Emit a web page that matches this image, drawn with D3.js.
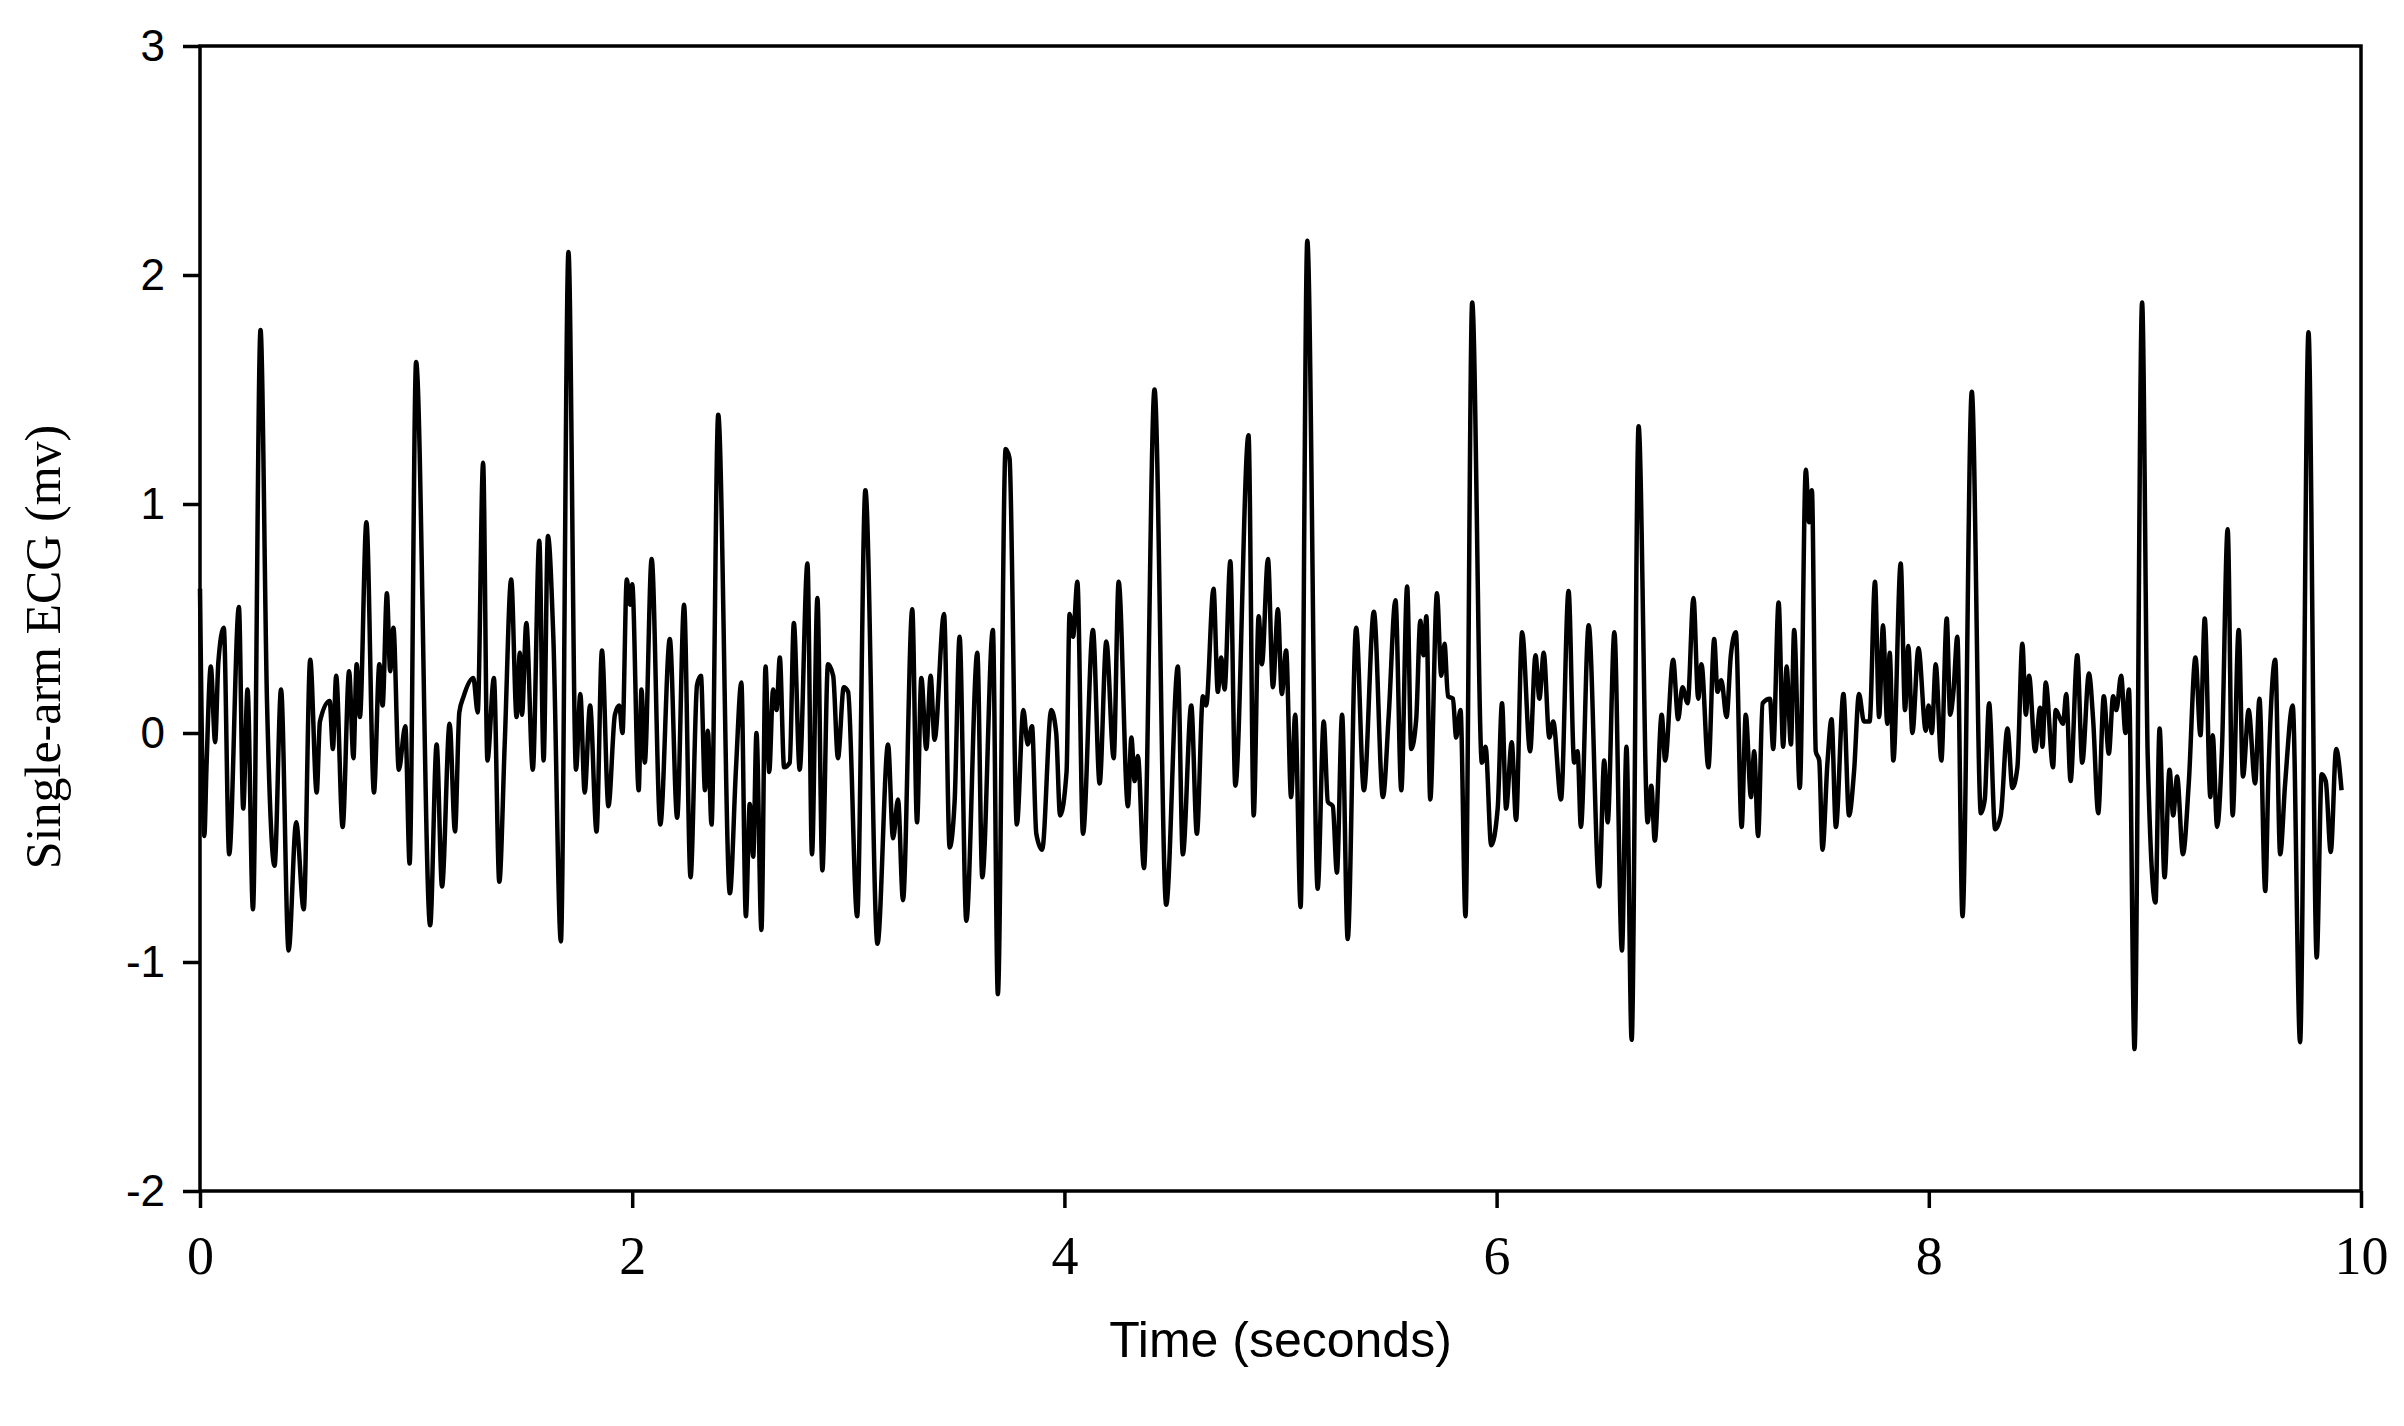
<!DOCTYPE html>
<html>
<head>
<meta charset="utf-8">
<script src="https://cdn.jsdelivr.net/npm/d3@7"></script>
<style>
body { margin: 0; background: #fff; }
</style>
</head>
<body>
<svg id="chart" width="2404" height="1426"></svg>
<script>
// ECG trace, turning points (seconds, mV)
var times = [
	0.0, 0.02, 0.03, 0.05, 0.07, 0.085, 0.11, 0.135, 0.18, 0.20, 0.22, 0.245, 0.28, 0.31, 0.345, 0.375,
	0.41, 0.445, 0.48, 0.51, 0.54, 0.555, 0.60, 0.615, 0.63, 0.66, 0.69, 0.71, 0.725, 0.74, 0.77, 0.805,
	0.83, 0.845, 0.865, 0.88, 0.895, 0.92, 0.95, 0.97, 1.0, 1.065, 1.095, 1.12, 1.155, 1.18, 1.20, 1.22,
	1.265, 1.285, 1.31, 1.33, 1.36, 1.385, 1.41, 1.44, 1.465, 1.48, 1.49, 1.51, 1.54, 1.57, 1.59, 1.61,
	1.635, 1.67, 1.705, 1.74, 1.76, 1.78, 1.805, 1.835, 1.86, 1.89, 1.92, 1.94, 1.955, 1.975, 1.99, 2.0,
	2.03, 2.043, 2.058, 2.09, 2.13, 2.174, 2.208, 2.24, 2.27, 2.30, 2.318, 2.337, 2.35, 2.367, 2.398, 2.452,
	2.48, 2.505, 2.526, 2.544, 2.56, 2.575, 2.598, 2.617, 2.634, 2.652, 2.668, 2.683, 2.703, 2.729, 2.748, 2.775,
	2.811, 2.832, 2.857, 2.88, 2.906, 2.93, 2.952, 2.979, 2.999, 3.041, 3.079, 3.135, 3.184, 3.207, 3.23, 3.253,
	3.296, 3.318, 3.338, 3.361, 3.381, 3.399, 3.443, 3.469, 3.492, 3.515, 3.546, 3.597, 3.62, 3.669, 3.692, 3.728,
	3.746, 3.78, 3.81, 3.83, 3.85, 3.87, 3.897, 3.939, 3.962, 3.98, 4.01, 4.024, 4.04, 4.06, 4.086, 4.132,
	4.163, 4.194, 4.228, 4.251, 4.294, 4.31, 4.325, 4.34, 4.368, 4.417, 4.471, 4.525, 4.548, 4.587, 4.613, 4.641,
	4.656, 4.69, 4.71, 4.726, 4.741, 4.768, 4.791, 4.852, 4.876, 4.899, 4.914, 4.942, 4.965, 4.988, 5.006, 5.026,
	5.049, 5.068, 5.093, 5.124, 5.172, 5.2, 5.219, 5.242, 5.261, 5.285, 5.311, 5.35, 5.386, 5.432, 5.474, 5.501,
	5.532, 5.559, 5.586, 5.605, 5.628, 5.647, 5.662, 5.675, 5.693, 5.724, 5.744, 5.759, 5.775, 5.798, 5.813, 5.833,
	5.856, 5.887, 5.932, 5.949, 5.975, 6.005, 6.025, 6.044, 6.07, 6.09, 6.118, 6.155, 6.18, 6.198, 6.218, 6.244,
	6.262, 6.298, 6.333, 6.359, 6.375, 6.39, 6.426, 6.475, 6.498, 6.514, 6.545, 6.58, 6.601, 6.625, 6.657, 6.699,
	6.716, 6.732, 6.764, 6.78, 6.817, 6.84, 6.86, 6.884, 6.911, 6.933, 6.948, 6.98, 7.007, 7.022, 7.04, 7.064,
	7.084, 7.107, 7.134, 7.153, 7.177, 7.192, 7.21, 7.231, 7.265, 7.28, 7.305, 7.326, 7.342, 7.362, 7.377, 7.403,
	7.431, 7.446, 7.459, 7.477, 7.493, 7.508, 7.531, 7.55, 7.57, 7.605, 7.631, 7.654, 7.677, 7.7, 7.726, 7.751,
	7.77, 7.788, 7.808, 7.819, 7.836, 7.87, 7.89, 7.905, 7.924, 7.952, 7.986, 7.999, 8.014, 8.032, 8.058, 8.083,
	8.099, 8.114, 8.132, 8.156, 8.199, 8.241, 8.259, 8.279, 8.307, 8.333, 8.364, 8.387, 8.41, 8.433, 8.449, 8.464,
	8.492, 8.515, 8.526, 8.541, 8.575, 8.587, 8.621, 8.636, 8.656, 8.687, 8.71, 8.741, 8.761, 8.784, 8.81, 8.833,
	8.853, 8.868, 8.89, 8.91, 8.926, 8.952, 8.987, 9.013, 9.049, 9.068, 9.091, 9.114, 9.131, 9.149, 9.176, 9.203,
	9.234, 9.257, 9.277, 9.303, 9.314, 9.334, 9.357, 9.383, 9.406, 9.434, 9.454, 9.48, 9.51, 9.53, 9.557, 9.572,
	9.603, 9.626, 9.649, 9.684, 9.718, 9.757, 9.795, 9.818, 9.837, 9.86, 9.885, 9.91
];
var values = [
	0.63, -0.45, -0.15, 0.29, -0.04, 0.31, 0.46, -0.53, 0.55, -0.33, 0.19, -0.77, 1.76, 0.14, -0.58, 0.19,
	-0.95, -0.39, -0.77, 0.32, -0.26, 0.05, 0.14, -0.07, 0.25, -0.41, 0.27, -0.11, 0.30, 0.07, 0.92, -0.26,
	0.30, 0.12, 0.61, 0.27, 0.46, -0.16, 0.03, -0.57, 1.62, -0.84, -0.05, -0.67, 0.04, -0.43, 0.09, 0.16,
	0.24, 0.09, 1.18, -0.12, 0.24, -0.65, -0.05, 0.67, 0.07, 0.35, 0.08, 0.48, -0.16, 0.84, -0.12, 0.86,
	0.42, -0.91, 2.10, -0.16, 0.17, -0.26, 0.12, -0.43, 0.36, -0.32, 0.08, 0.12, 0.0, 0.67, 0.56, 0.65,
	-0.25, 0.19, -0.13, 0.76, -0.40, 0.41, -0.37, 0.56, -0.63, 0.21, 0.25, -0.25, 0.01, -0.40, 1.39, -0.70,
	-0.16, 0.22, -0.80, -0.31, -0.54, 0.0, -0.86, 0.29, -0.17, 0.19, 0.10, 0.33, -0.15, -0.13, 0.48, -0.16,
	0.74, -0.53, 0.59, -0.60, 0.30, 0.25, -0.11, 0.20, 0.18, -0.80, 1.06, -0.92, -0.05, -0.46, -0.29, -0.73,
	0.54, -0.39, 0.24, -0.07, 0.25, -0.03, 0.52, -0.50, -0.30, 0.42, -0.82, 0.35, -0.63, 0.45, -1.14, 1.24,
	1.20, -0.40, 0.10, -0.05, 0.03, -0.44, -0.51, 0.10, 0.0, -0.36, -0.17, 0.52, 0.42, 0.66, -0.44, 0.45,
	-0.22, 0.40, -0.11, 0.66, -0.32, -0.02, -0.21, -0.10, -0.59, 1.50, -0.75, 0.29, -0.53, 0.12, -0.44, 0.16,
	0.12, 0.63, 0.18, 0.33, 0.19, 0.75, -0.23, 1.30, -0.36, 0.51, 0.30, 0.76, 0.20, 0.54, 0.17, 0.36,
	-0.28, 0.08, -0.76, 2.15, -0.68, 0.05, -0.30, -0.32, -0.61, 0.08, -0.90, 0.46, -0.25, 0.53, -0.28, 0.08,
	0.58, -0.25, 0.64, -0.07, 0.06, 0.49, 0.34, 0.51, -0.29, 0.61, 0.25, 0.39, 0.16, 0.15, -0.02, 0.10,
	-0.80, 1.88, -0.13, -0.06, -0.49, -0.33, 0.13, -0.33, -0.04, -0.38, 0.44, -0.08, 0.34, 0.15, 0.35, -0.02,
	0.05, -0.29, 0.62, -0.13, -0.08, -0.41, 0.47, -0.67, -0.12, -0.39, 0.44, -0.95, -0.06, -1.34, 1.34, -0.39,
	-0.23, -0.47, 0.08, -0.12, 0.32, 0.06, 0.20, 0.13, 0.59, 0.15, 0.30, -0.15, 0.41, 0.18, 0.23, 0.07,
	0.34, 0.44, -0.41, 0.08, -0.28, -0.08, -0.45, 0.13, 0.15, -0.07, 0.57, -0.06, 0.29, -0.05, 0.45, -0.24,
	1.15, 0.92, 1.06, -0.08, -0.12, -0.51, -0.13, 0.06, -0.41, 0.17, -0.36, -0.17, 0.17, 0.05, 0.05, 0.66,
	0.07, 0.47, 0.04, 0.35, -0.12, 0.74, 0.10, 0.38, 0.0, 0.37, 0.01, 0.12, 0.0, 0.30, -0.12, 0.50,
	0.08, 0.18, 0.42, -0.80, 1.49, -0.35, -0.29, 0.13, -0.42, -0.36, 0.02, -0.24, -0.15, 0.39, 0.08, 0.25,
	-0.08, 0.11, -0.06, 0.22, -0.15, 0.10, 0.04, 0.17, -0.21, 0.34, -0.13, 0.26, 0.05, -0.35, 0.16, -0.09,
	0.16, 0.10, 0.25, 0.0, 0.19, -1.38, 1.88, -0.10, -0.74, 0.02, -0.63, -0.16, -0.36, -0.19, -0.53, -0.22,
	0.33, -0.01, 0.50, -0.28, -0.01, -0.41, -0.06, 0.89, -0.36, 0.45, -0.19, 0.10, -0.22, 0.15, -0.69, -0.17,
	0.32, -0.53, -0.22, 0.12, -1.35, 1.75, -0.98, -0.18, -0.21, -0.52, -0.07, -0.25
];
var xTicks = [0, 2, 4, 6, 8, 10];
var yTicks = [-2, -1, 0, 1, 2, 3];

var svg = d3.select('#chart');
var plotLeft = 200, plotRight = 2361, plotTop = 46, plotBottom = 1191;

var x = d3.scaleLinear().domain([0, 10]).range([plotLeft, plotRight]);
var y = d3.scaleLinear().domain([-2, 3]).range([plotBottom, plotTop]);

// frame
svg.append("rect")
	.attr("x", plotLeft)
	.attr("y", plotTop)
	.attr("width", plotRight - plotLeft)
	.attr("height", plotBottom - plotTop)
	.attr("fill", "none")
	.attr("stroke", "#000")
	.attr("stroke-width", 3.5);

// y axis, sans labels (plain hyphen for negatives)
var yAxis = svg.append("g")
	.attr("transform", "translate(" + plotLeft + ",0)")
	.call(d3.axisLeft(y).tickValues(yTicks).tickSize(17).tickPadding(18).tickFormat(function(d) { return String(d); }));
yAxis.select(".domain").remove();
yAxis.selectAll("line").attr("stroke-width", 3.5);
yAxis.selectAll("text")
	.style("font-family", "Liberation Sans, Arial, sans-serif")
	.style("font-size", "44px")
	.attr("fill", "#000");

// x axis, serif labels
var xAxis = svg.append("g")
	.attr("transform", "translate(0," + plotBottom + ")")
	.call(d3.axisBottom(x).tickValues(xTicks).tickSize(17).tickPadding(28).tickFormat(d3.format("d")));
xAxis.select(".domain").remove();
xAxis.selectAll("line").attr("stroke-width", 3.5);
xAxis.selectAll("text")
	.style("font-family", "Liberation Serif, Times New Roman, serif")
	.style("font-size", "54px")
	.attr("fill", "#000");

// trace
var points = times.map(function(t, i) { return [t, values[i]]; });
var line = d3.line()
	.curve(d3.curveMonotoneX)
	.x(function(d) { return x(d[0]); })
	.y(function(d) { return y(d[1]); });
svg.append("path")
	.datum(points)
	.attr("d", line)
	.attr("fill", "none")
	.attr("stroke", "#000")
	.attr("stroke-width", 4.5)
	.attr("stroke-linejoin", "round");

// titles
svg.append("text")
	.attr("x", (plotLeft + plotRight) / 2)
	.attr("y", 1357)
	.attr("text-anchor", "middle")
	.style("font-family", "Liberation Sans, Arial, sans-serif")
	.style("font-size", "50px")
	.text("Time (seconds)");

svg.append("text")
	.attr("transform", "translate(60,647) rotate(-90)")
	.attr("text-anchor", "middle")
	.style("font-family", "Liberation Serif, Times New Roman, serif")
	.style("font-size", "50px")
	.text("Single-arm ECG (mv)");
</script>
</body>
</html>
